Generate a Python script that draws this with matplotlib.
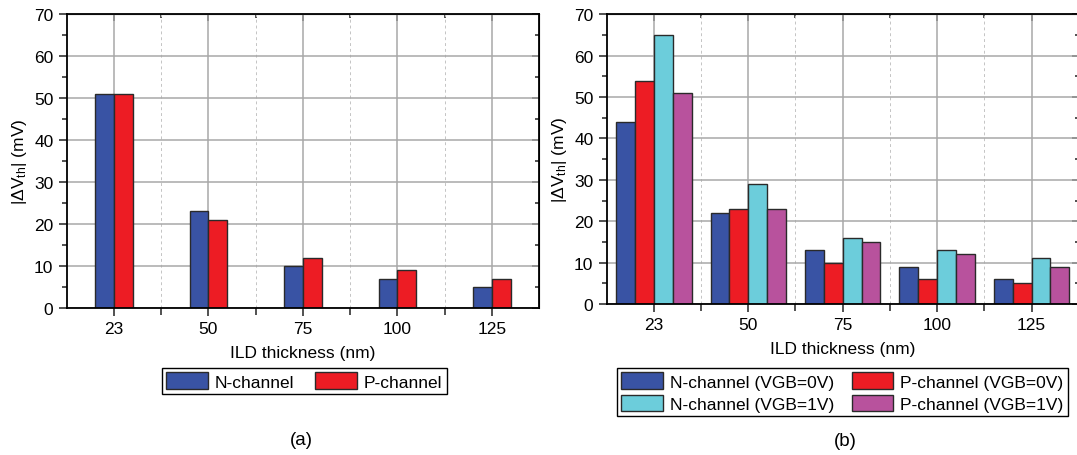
import numpy as np
import matplotlib
matplotlib.use("Agg")
import matplotlib.pyplot as plt
from matplotlib.ticker import MultipleLocator, FixedLocator

plt.rcParams["font.family"] = ["Liberation Sans", "DejaVu Sans"]
plt.rcParams["mathtext.fontset"] = "custom"
plt.rcParams["mathtext.rm"] = "Liberation Sans"
plt.rcParams["mathtext.it"] = "Liberation Sans:italic"

# data
thickness = ["23", "50", "75", "100", "125"]

# (a)
n_channel = [51, 23, 10, 7, 5]
p_channel = [51, 21, 12, 9, 7]

# (b)
n_vgb0 = [44, 22, 13, 9, 6]
p_vgb0 = [54, 23, 10, 6, 5]
n_vgb1 = [65, 29, 16, 13, 11]
p_vgb1 = [51, 23, 15, 12, 9]

BLUE = "#3953a4"
RED = "#ed1c24"
CYAN = "#6ccddb"
PURPLE = "#b8529d"
EDGE = "#2a2a2a"

ylab = r"|$\Delta$V$_{\mathrm{th}}$| (mV)"
FS = 12.5


def style_axes(ax):
    n = len(thickness)
    ax.set_xlim(-0.5, n - 0.5)
    ax.set_ylim(0, 70)
    ax.set_xticks(np.arange(n))
    ax.set_xticklabels(thickness)
    ax.xaxis.set_minor_locator(FixedLocator(np.arange(0.5, n - 0.5, 1)))
    ax.yaxis.set_major_locator(MultipleLocator(10))
    ax.yaxis.set_minor_locator(MultipleLocator(5))
    ax.grid(True, which="major", axis="both", color="#a8a8a8", lw=1.1, ls="-")
    ax.grid(True, which="minor", axis="x", color="#c4c4c4", lw=0.7, ls=(0, (3, 3)))
    ax.set_axisbelow(True)
    ax.tick_params(which="major", direction="out", length=6, width=1.1,
                   labelsize=FS, color="#222222")
    ax.tick_params(which="minor", direction="out", length=3.5, width=1.1,
                   color="#222222")
    ax.tick_params(axis="x", which="minor", length=5)
    for sp in ax.spines.values():
        sp.set_linewidth(1.3)

    # inward ticks on top and right, like the original
    top = ax.secondary_xaxis("top")
    top.set_xticks(np.arange(n))
    top.xaxis.set_minor_locator(FixedLocator(np.arange(0.5, n - 0.5, 1)))
    top.tick_params(which="both", direction="in", labeltop=False, width=1.1,
                    color="#222222")
    top.tick_params(which="major", length=5)
    top.tick_params(which="minor", length=3)
    right = ax.secondary_yaxis("right")
    right.yaxis.set_major_locator(MultipleLocator(10))
    right.yaxis.set_minor_locator(MultipleLocator(5))
    right.tick_params(which="both", direction="in", labelright=False, width=1.1,
                      color="#222222")
    right.tick_params(which="major", length=5)
    right.tick_params(which="minor", length=3)

    ax.set_xlabel("ILD thickness (nm)", fontsize=FS, labelpad=6)
    ax.set_ylabel(ylab, fontsize=FS, labelpad=4)


fig = plt.figure(figsize=(10.77, 4.56), dpi=100)
ax1 = fig.add_axes([0.0619, 0.3224, 0.4388, 0.644])
ax2 = fig.add_axes([0.5633, 0.3311, 0.4383, 0.6353])

x = np.arange(len(thickness))
w = 0.2

ax1.bar(x - w / 2, n_channel, w, color=BLUE, edgecolor=EDGE, lw=1, label="N-channel")
ax1.bar(x + w / 2, p_channel, w, color=RED, edgecolor=EDGE, lw=1, label="P-channel")
style_axes(ax1)
ax1.legend(loc="upper center", bbox_to_anchor=(0.2827, 0.1908),
           bbox_transform=fig.transFigure, ncol=2, fontsize=FS,
           frameon=True, fancybox=False, edgecolor="black", framealpha=1,
           handlelength=2.4, handleheight=1.1, columnspacing=1.2,
           handletextpad=0.4, borderpad=0.25, borderaxespad=0)

series_b = [(n_vgb0, BLUE, "N-channel (VGB=0V)"),
            (p_vgb0, RED, "P-channel (VGB=0V)"),
            (n_vgb1, CYAN, "N-channel (VGB=1V)"),
            (p_vgb1, PURPLE, "P-channel (VGB=1V)")]
bars = []
for i, (vals, col, lab) in enumerate(series_b):
    b = ax2.bar(x + (i - 1.5) * w, vals, w, color=col, edgecolor=EDGE, lw=1, label=lab)
    bars.append(b)
style_axes(ax2)
# legend order: row-wise N0, P0 / N1, P1
h = [bars[0], bars[2], bars[1], bars[3]]
l = [series_b[0][2], series_b[2][2], series_b[1][2], series_b[3][2]]
ax2.legend(h, l, loc="upper center", bbox_to_anchor=(0.7823, 0.1908),
           bbox_transform=fig.transFigure, ncol=2, fontsize=FS,
           frameon=True, fancybox=False, edgecolor="black", framealpha=1,
           handlelength=2.4, handleheight=1.1, columnspacing=1.0,
           handletextpad=0.4, borderpad=0.25, labelspacing=0.3, borderaxespad=0)

fig.text(0.280, 0.035, "(a)", ha="center", va="center", fontsize=FS + 1)
fig.text(0.785, 0.031, "(b)", ha="center", va="center", fontsize=FS + 1)

fig.savefig("out.png", dpi=100)
